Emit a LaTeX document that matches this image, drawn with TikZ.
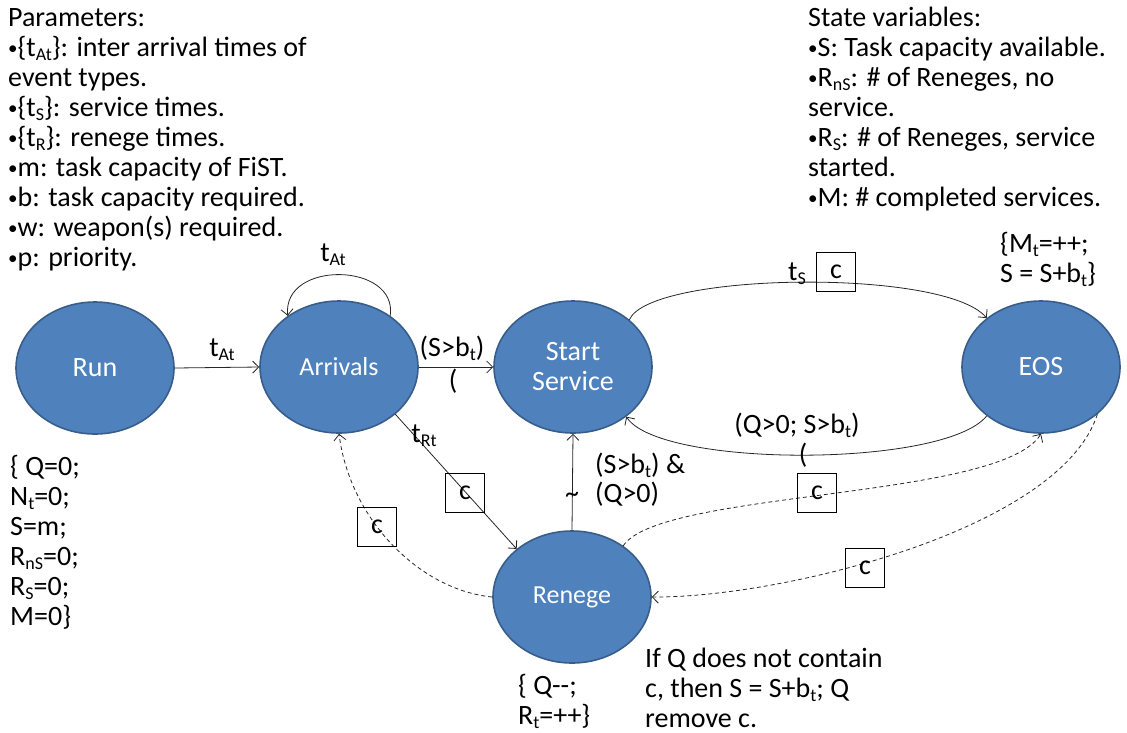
\documentclass[tikz,border=0pt]{standalone}
\usepackage{fontspec}
\setmainfont{Carlito}
\usetikzlibrary{shapes.geometric,arrows.meta}
\definecolor{evfill}{RGB}{79,129,189}
\definecolor{evline}{RGB}{56,93,138}
% lowered, smaller index text
\newcommand\lo[1]{\raisebox{-4pt}{\fontsize{18}{18}\selectfont #1}}
% small list bullet
\newcommand\bul{\raisebox{2pt}{\fontsize{19}{19}\selectfont •}}
\begin{document}
\begin{tikzpicture}[x=1pt,y=-1pt,
  font=\fontsize{28}{30}\selectfont,
  evt/.style={ellipse, draw=evline, line width=1.6pt, fill=evfill, text=white,
    minimum width=158pt, minimum height=132pt, inner sep=0pt, align=center},
  small/.style={font=\fontsize{26}{28}\selectfont},
  cbox/.style={draw=black, line width=0.9pt, minimum size=39pt, inner sep=0pt},
  blk/.style={anchor=north west, align=left, inner sep=0pt},
  lbl/.style={inner sep=0pt},
  arr/.style={draw=black!85, line width=0.8pt, -{Straight Barb[length=6pt,width=12pt]}},
  dsh/.style={arr, dash pattern=on 4pt off 3pt}
]
\useasboundingbox (0,0) rectangle (1127,732);

% text blocks
\node[blk] (params) at (8,4) {\rule{0pt}{22pt}Parameters:\\
  \bul\{t\lo{At}\}: inter arrival times of\\
  event types.\\
  \bul\{t\lo{S}\}: service times.\\
  \bul\{t\lo{R}\}: renege times.\\
  \bul m: task capacity of FiST.\\
  \bul b: task capacity required.\\
  \bul w: weapon(s) required.\\
  \bul p: priority.};
\node[blk] (state) at (808,4) {\rule{0pt}{22pt}State variables:\\
  \bul S: Task capacity available.\\
  \bul R\lo{nS}: \# of Reneges, no\\
  service.\\
  \bul R\lo{S}: \# of Reneges, service\\
  started.\\
  \bul M: \# completed services.};
\node[blk] (init) at (10,453) {\rule{0pt}{22pt}\{ Q=0;\\
  N\lo{t}=0;\\
  S=m;\\
  R\lo{nS}=0;\\
  R\lo{S}=0;\\
  M=0\}};
\node[blk] (eosact) at (1000,230) {\rule{0pt}{22pt}\{M\lo{t}=++;\\
  S = S+b\lo{t}\}};
\node[blk] (renact) at (518,672) {\rule{0pt}{22pt}\{ Q-{}-;\\
  R\lo{t}=++\}};
\node[blk] (rencond) at (645,645) {\rule{0pt}{22pt}If Q does not contain\\
  c, then S = S+b\lo{t}; Q\\
  remove c.};

% events
\node[evt] (run) at (95,368) {Run};
\node[evt, small] (arr) at (339,367) {Arrivals};
\node[evt] (start) at (573,367) {Start\\Service};
\node[evt] (eos) at (1041,367) {EOS};
\node[evt, small] (ren) at (572,597) {Renege};

% transitions
\draw[arr] (run.east) -- (arr.west);
\draw[arr] (arr.45) .. controls (398,262) and (282,260) .. (arr.135);
\draw[arr] (arr.east) -- (start.west);
\draw[arr] (start.40) .. controls (650,272) and (945,268) .. (eos.138);
\draw[arr] (eos.222) .. controls (945,468) and (660,468) .. (start.317);
\draw[arr] (ren.north) -- (start.south);
\draw[arr] (arr.320) -- (ren.139);
\draw[dsh] (ren.west) .. controls (420,590) and (350,520) .. (arr.south);
\draw[dsh] (ren.45) .. controls (660,490) and (1000,500) .. (eos.south);
\draw[dsh] (eos.320) .. controls (1060,530) and (780,598) .. (ren.east);

% transition labels
\node[lbl] (l1) at (222,350) {t\lo{At}};
\node[lbl] (l2) at (333,255) {t\lo{At}};
\node[lbl] (l3) at (452,348) {(S>b\lo{t})};
\node[lbl] (l4) at (453,381) {(};
\node[lbl] (l5) at (797,274) {t\lo{S}};
\node[lbl] (l6) at (797,425) {(Q>0; S>b\lo{t})};
\node[lbl] (l7) at (803,455) {(};
\node[lbl] (l8) at (424,436) {t\lo{Rt}};
\node[lbl, anchor=west] (l9) at (595,465) {(S>b\lo{t}) \&};
\node[lbl, anchor=west] (l10) at (595,494) {(Q>0)};
\node[lbl] (l11) at (572,497) {\textasciitilde};

% cancelling edge boxes
\node[cbox] (c1) at (836,272) {c};
\node[cbox] (c2) at (465,493) {c};
\node[cbox] (c3) at (377,527) {c};
\node[cbox] (c4) at (817,493) {c};
\node[cbox] (c5) at (865,568) {c};
\end{tikzpicture}
\end{document}
